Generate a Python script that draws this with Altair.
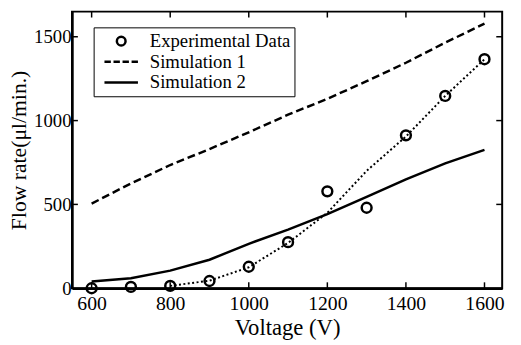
import altair as alt
import pandas as pd

# ---- data ----
voltage = [600, 700, 800, 900, 1000, 1100, 1200, 1300, 1400, 1500, 1600]
experimental = [0, 8, 14, 43, 128, 275, 578, 480, 912, 1147, 1366]
simulation1 = [505, 625, 735, 830, 930, 1035, 1130, 1235, 1345, 1465, 1578]
simulation2 = [40, 60, 105, 170, 265, 350, 442, 545, 650, 745, 825]
fit_voltage = [800, 900, 1000, 1100, 1200, 1300, 1400, 1500, 1600]
fit_values = [14, 45, 125, 270, 450, 700, 905, 1147, 1366]
series_names = ["Experimental Data", "Simulation 1", "Simulation 2"]
x_ticks = [600, 800, 1000, 1200, 1400, 1600]
y_ticks = [0, 500, 1000, 1500]

exp_df = pd.DataFrame({"voltage": voltage, "flow": experimental, "series": series_names[0]})
sim1_df = pd.DataFrame({"voltage": voltage, "flow": simulation1})
sim2_df = pd.DataFrame({"voltage": voltage, "flow": simulation2})
fit_df = pd.DataFrame({"voltage": fit_voltage, "flow": fit_values})
xt_df = pd.DataFrame({"voltage": x_ticks})
yt_df = pd.DataFrame({"flow": y_ticks[1:]})

W, H = 437, 281
FONT = "Liberation Serif"

xs = alt.Scale(domain=[550, 1645], nice=False, zero=False)
ys = alt.Scale(domain=[0, 1650], nice=False, zero=False)

xaxis = alt.Axis(values=x_ticks, format="d", title="Voltage (V)", grid=False, ticks=False, tickSize=0,
                 labelFont=FONT, labelFontSize=20, labelColor="black", labelPadding=6,
                 labelFlush=False, domain=True, domainColor="black", domainWidth=2.5,
                 titleFont=FONT, titleFontSize=23, titleFontWeight="normal",
                 titleColor="black", titlePadding=3)
yaxis = alt.Axis(values=y_ticks, format="d", title="Flow rate(μl/min.)", grid=False, ticks=False, tickSize=0,
                 labelFont=FONT, labelFontSize=19, labelColor="black", labelPadding=1,
                 labelFlush=False, domain=True, domainColor="black", domainWidth=2.5,
                 titleFont=FONT, titleFontSize=22, titleFontWeight="normal",
                 titleColor="black", titlePadding=3)

circle_path = "M0.52,0A0.52,0.52,0,1,1,-0.52,0A0.52,0.52,0,1,1,0.52,0Z"
dash_path = "M-2,0H-1.24M-0.92,0H-0.16M0.16,0H0.92M1.24,0H2"
solid_path = "M-2,0H2"

legend = alt.Legend(title=None, orient="none", legendX=22, legendY=16,
                    strokeColor="black", fillColor="white", padding=4, cornerRadius=0,
                    symbolSize=289, symbolStrokeWidth=2.5, symbolStrokeColor="black",
                    symbolFillColor="transparent", symbolOffset=14, labelOffset=19,
                    labelFont=FONT, labelFontSize=19, labelColor="black", rowPadding=1,
                    labelLimit=300)

sim1 = alt.Chart(sim1_df).mark_line(color="black", strokeWidth=2.5, strokeDash=[8, 4]).encode(
    x=alt.X("voltage:Q", scale=xs, axis=xaxis), y=alt.Y("flow:Q", scale=ys, axis=yaxis))
sim2 = alt.Chart(sim2_df).mark_line(color="black", strokeWidth=2.5).encode(
    x=alt.X("voltage:Q"), y=alt.Y("flow:Q"))
fit = alt.Chart(fit_df).mark_line(color="black", strokeWidth=2, strokeDash=[2, 2.5]).encode(
    x=alt.X("voltage:Q"), y=alt.Y("flow:Q"))
pts = alt.Chart(exp_df).mark_point(filled=False, size=370, strokeWidth=2.5, color="black", opacity=1).encode(
    x=alt.X("voltage:Q"), y=alt.Y("flow:Q"),
    shape=alt.Shape("series:N", scale=alt.Scale(domain=series_names,
                                                 range=[circle_path, dash_path, solid_path]),
                    legend=legend))

tick_style = dict(color="black", strokeWidth=1.5)
xt_bottom = alt.Chart(xt_df).mark_rule(**tick_style).encode(
    x=alt.X("voltage:Q"), y=alt.value(H), y2=alt.value(H - 6))
xt_top = alt.Chart(xt_df).mark_rule(**tick_style).encode(
    x=alt.X("voltage:Q"), y=alt.value(0), y2=alt.value(6))
yt_left = alt.Chart(yt_df).mark_rule(**tick_style).encode(
    y=alt.Y("flow:Q"), x=alt.value(0), x2=alt.value(6))
yt_right = alt.Chart(yt_df).mark_rule(**tick_style).encode(
    y=alt.Y("flow:Q"), x=alt.value(W), x2=alt.value(W - 6))

chart = alt.layer(sim1, sim2, fit, pts, xt_bottom, xt_top, yt_left, yt_right).properties(
    width=W, height=H,
    autosize=alt.AutoSizeParams(type="none"),
    padding={"left": 65, "top": 1, "right": 11, "bottom": 55},
    background="white",
).configure_view(stroke="black", strokeWidth=2)

chart.save("out.html", embed_options={"renderer": "svg", "actions": False})
